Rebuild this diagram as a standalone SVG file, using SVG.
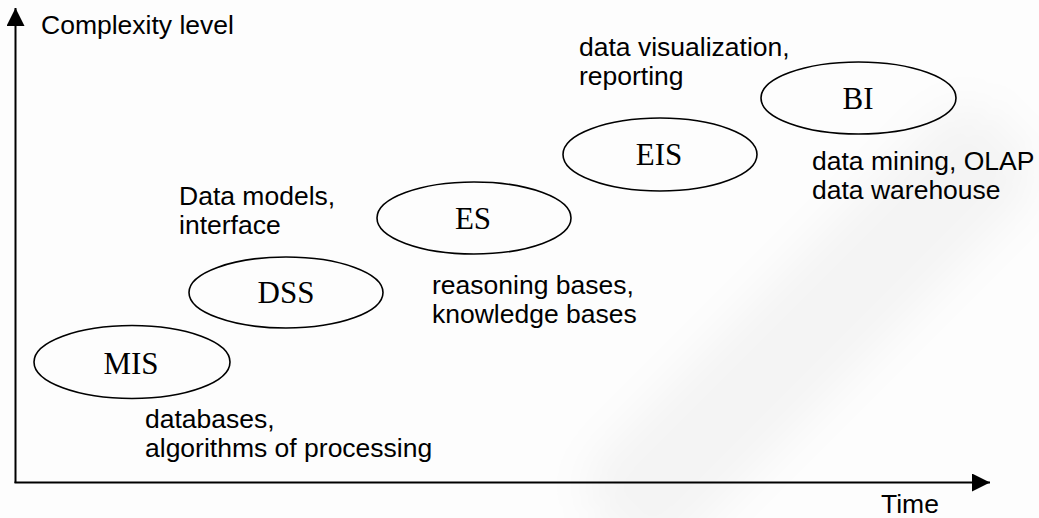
<svg xmlns="http://www.w3.org/2000/svg" width="1039" height="518" viewBox="0 0 1039 518">
  <style>
    .axis { stroke: #000; stroke-width: 2; fill: none; }
    .node ellipse { fill: none; stroke: #000; stroke-width: 1.6; }
    .node text { font-family: "Liberation Serif", "Times New Roman", serif; font-size: 31px; fill: #000; text-anchor: middle; }
    .note { font-family: "Liberation Sans", Arial, sans-serif; font-size: 26.5px; fill: #000; }
    .haze { fill: #000; opacity: 0.035; }
  </style>
  <defs>
    <marker id="head" markerUnits="userSpaceOnUse" markerWidth="18" markerHeight="18" viewBox="0 0 16 16" refX="16" refY="8" orient="auto">
      <path d="M0,0 L16,8 L0,16 Z" fill="#000"/>
    </marker>
    <filter id="soft" x="-30%" y="-30%" width="160%" height="160%">
      <feGaussianBlur stdDeviation="22"/>
    </filter>
  </defs>

  <rect width="1039" height="518" fill="#fdfdfd"/>

  <!-- faint diagonal background haze -->
  <g filter="url(#soft)" transform="rotate(-45 810 330)">
    <rect class="haze" x="530" y="270" width="560" height="120" rx="40"/>
  </g>

  <!-- axes -->
  <g id="connectors">
    <line class="axis" x1="15.5" y1="483" x2="15.5" y2="8" marker-end="url(#head)"/>
    <line class="axis" x1="14.5" y1="482.5" x2="990" y2="482.5" marker-end="url(#head)"/>
  </g>

  <text class="note" x="41" y="34">Complexity level</text>
  <text class="note" x="881" y="513">Time</text>

  <g id="node-mis" class="node">
    <ellipse cx="132" cy="362" rx="98" ry="36.5"/>
    <text x="131" y="374">MIS</text>
  </g>
  <g id="node-dss" class="node">
    <ellipse cx="286" cy="292.5" rx="97" ry="35.5"/>
    <text x="286" y="303">DSS</text>
  </g>
  <g id="node-es" class="node">
    <ellipse cx="474" cy="218" rx="97" ry="36"/>
    <text x="473" y="229">ES</text>
  </g>
  <g id="node-eis" class="node">
    <ellipse cx="660" cy="154.5" rx="97" ry="36.5"/>
    <text x="659" y="165">EIS</text>
  </g>
  <g id="node-bi" class="node">
    <ellipse cx="858.5" cy="98" rx="97.5" ry="36"/>
    <text x="858" y="109">BI</text>
  </g>

  <g id="notes">
    <text class="note" x="145" y="428">databases,</text>
    <text class="note" x="145" y="456.5">algorithms of processing</text>
    <text class="note" x="179" y="205">Data models,</text>
    <text class="note" x="179" y="233.5">interface</text>
    <text class="note" x="432" y="294">reasoning bases,</text>
    <text class="note" x="432" y="322.5">knowledge bases</text>
    <text class="note" x="579" y="56">data visualization,</text>
    <text class="note" x="579" y="85">reporting</text>
    <text class="note" x="812" y="170">data mining, OLAP</text>
    <text class="note" x="812" y="199">data warehouse</text>
  </g>
</svg>
